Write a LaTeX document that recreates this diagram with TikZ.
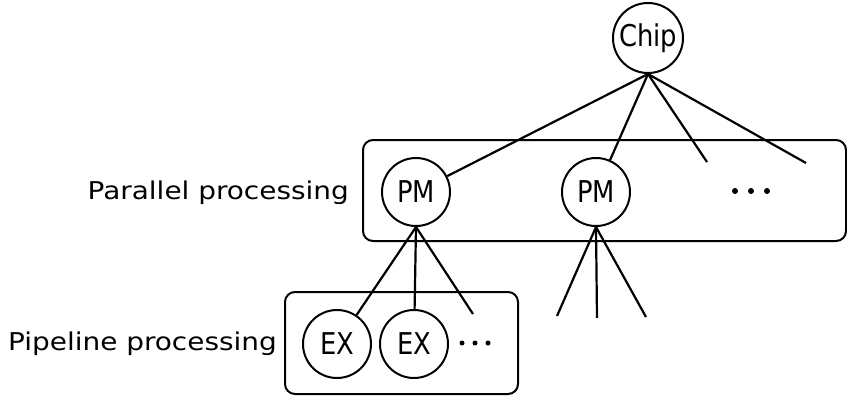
\documentclass[tikz,border=0pt]{standalone}
\usepackage{fontspec}
\newfontfamily\lblfont[FakeStretch=1.14]{DejaVu Sans}
\newfontfamily\ndfont[FakeStretch=0.86]{DejaVu Sans}
\begin{document}
\begin{tikzpicture}[x=1pt,y=-1pt,
  unit/.style={circle,draw,line width=2pt,minimum size=68pt,inner sep=0pt,font=\ndfont\fontsize{30}{34}\selectfont},
  grp/.style={draw,line width=2pt,rounded corners=10pt},
  link/.style={line width=2.2pt},
  lbl/.style={font=\lblfont\fontsize{24.5}{28}\selectfont,inner sep=0pt,anchor=east},
  dot/.style={circle,fill,inner sep=0pt,minimum size=6pt}]
\useasboundingbox (0,0) rectangle (847,397);
% group boxes
\draw[grp] (363,140) rectangle (846,241);
\draw[grp] (285,292) rectangle (518,394);
% units
\node[unit,minimum size=70pt] (chip) at (648,38) {Chip};
\node[unit] (pm1) at (416,192) {PM};
\node[unit] (pm2) at (596,192) {PM};
\node[unit] (ex1) at (337,344) {EX};
\node[unit] (ex2) at (414,344) {EX};
% free ends
\coordinate (c3) at (707,162);
\coordinate (c4) at (806,163);
\coordinate (p3) at (473,314);
\coordinate (q1) at (557,316);
\coordinate (q2) at (597,318);
\coordinate (q3) at (646,317);
% links
\draw[link] (chip.south) -- (pm1);
\draw[link] (chip.south) -- (pm2);
\draw[link] (chip.south) -- (c3);
\draw[link] (chip.south) -- (c4);
\draw[link] (pm1.south) -- (ex1);
\draw[link] (pm1.south) -- (ex2);
\draw[link] (pm1.south) -- (p3);
\draw[link] (pm2.south) -- (q1);
\draw[link] (pm2.south) -- (q2);
\draw[link] (pm2.south) -- (q3);
% dots
\node[dot] (d1) at (735,191) {};
\node[dot] (d2) at (751,191) {};
\node[dot] (d3) at (767,191) {};
\node[dot,minimum size=5pt] (e1) at (462,343) {};
\node[dot,minimum size=5pt] (e2) at (475,343) {};
\node[dot,minimum size=5pt] (e3) at (488,343) {};
% labels
\node[lbl] (lpar) at (349,193) {Parallel processing};
\node[lbl] (lpip) at (277,344) {Pipeline processing};
\end{tikzpicture}
\end{document}
